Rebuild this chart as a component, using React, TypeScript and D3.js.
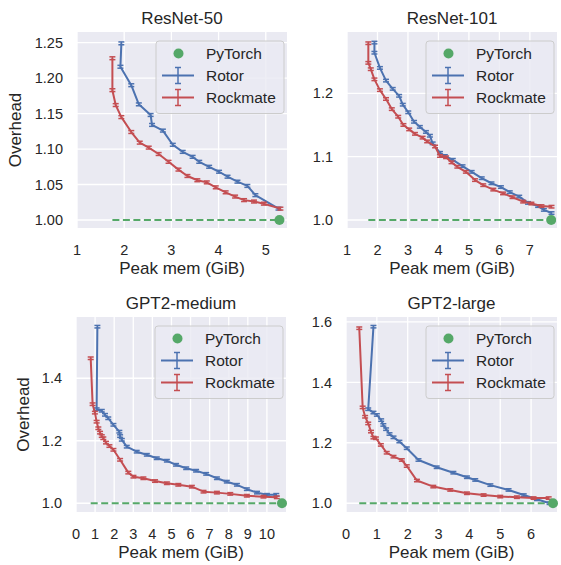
import React, { useEffect, useRef } from "react";
import * as d3 from "d3";

// values: [peak mem (GiB), overhead]
const resnet50Rotor = [
  [1.94, 1.249], [1.92, 1.216], [2.15, 1.19], [2.31, 1.163], [2.56, 1.148], [2.59, 1.134],
  [2.82, 1.126], [3.03, 1.106], [3.24, 1.096], [3.45, 1.089], [3.59, 1.082], [3.8, 1.075],
  [4.01, 1.068], [4.19, 1.061], [4.4, 1.054], [4.61, 1.048], [4.78, 1.035], [5.27, 1.016],
];
const resnet50Rockmate = [
  [1.75, 1.228], [1.75, 1.183], [1.82, 1.162], [1.94, 1.145], [2.15, 1.124], [2.33, 1.109],
  [2.52, 1.102], [2.73, 1.093], [2.94, 1.082], [3.15, 1.071], [3.34, 1.062], [3.55, 1.056],
  [3.75, 1.053], [3.94, 1.046], [4.15, 1.039], [4.35, 1.033], [4.54, 1.028], [4.75, 1.026],
  [4.96, 1.023], [5.31, 1.016],
];
const resnet50PyTorch = [5.29, 1.0];

const resnet101Rotor = [
  [1.9, 1.28], [1.9, 1.264], [2.08, 1.24], [2.28, 1.22], [2.5, 1.207], [2.71, 1.196],
  [2.83, 1.182], [3.01, 1.17], [3.2, 1.155], [3.39, 1.147], [3.59, 1.139], [3.72, 1.133],
  [3.81, 1.121], [4.05, 1.106], [4.21, 1.101], [4.47, 1.095], [4.79, 1.085], [5.09, 1.076],
  [5.42, 1.066], [5.74, 1.058], [6.05, 1.052], [6.34, 1.044], [6.65, 1.037], [6.94, 1.027],
  [7.27, 1.022], [7.46, 1.016], [7.71, 1.011],
];
const resnet101Rockmate = [
  [1.7, 1.279], [1.7, 1.248], [1.78, 1.238], [1.9, 1.222], [2.08, 1.205], [2.28, 1.191],
  [2.47, 1.175], [2.68, 1.163], [2.85, 1.15], [3.04, 1.143], [3.23, 1.136], [3.48, 1.13],
  [3.63, 1.124], [3.89, 1.116], [4.05, 1.101], [4.25, 1.099], [4.43, 1.091], [4.62, 1.084],
  [4.9, 1.076], [5.2, 1.063], [5.47, 1.055], [5.8, 1.048], [6.12, 1.042], [6.43, 1.036],
  [6.78, 1.029], [7.05, 1.026], [7.38, 1.022], [7.71, 1.021],
];
const resnet101PyTorch = [7.7, 1.0];

const gpt2mRotor = [
  [1.12, 1.565], [1.08, 1.301], [1.35, 1.296], [1.52, 1.283], [1.69, 1.272], [1.96, 1.251],
  [2.27, 1.229], [2.31, 1.215], [2.4, 1.203], [2.66, 1.181], [3.18, 1.165], [3.71, 1.155],
  [4.23, 1.144], [4.76, 1.136], [5.24, 1.123], [5.77, 1.112], [6.29, 1.104], [6.82, 1.094],
  [7.38, 1.08], [7.9, 1.069], [8.43, 1.059], [8.95, 1.045], [9.48, 1.034], [10.0, 1.027],
  [10.49, 1.027],
];
const gpt2mRockmate = [
  [0.77, 1.464], [0.87, 1.317], [0.99, 1.29], [1.08, 1.261], [1.17, 1.24], [1.26, 1.226],
  [1.35, 1.215], [1.43, 1.208], [1.57, 1.194], [1.75, 1.183], [1.96, 1.171], [2.31, 1.139],
  [2.74, 1.098], [3.01, 1.085], [3.53, 1.08], [4.14, 1.071], [4.76, 1.064], [5.36, 1.059],
  [6.07, 1.053], [6.68, 1.037], [7.38, 1.034], [8.08, 1.03], [8.95, 1.024], [9.82, 1.021],
  [10.52, 1.019],
];
const gpt2mPyTorch = [10.79, 1.0];

const gpt2lRotor = [
  [0.89, 1.584], [0.72, 1.311], [0.89, 1.3], [1.0, 1.292], [1.14, 1.275], [1.21, 1.259],
  [1.3, 1.245], [1.41, 1.229], [1.54, 1.218], [1.73, 1.204], [1.97, 1.182], [2.35, 1.143],
  [2.94, 1.119], [3.48, 1.101], [3.92, 1.086], [4.19, 1.077], [4.68, 1.06], [5.27, 1.044],
  [5.76, 1.027], [6.19, 1.013], [6.6, 1.0],
];
const gpt2lRockmate = [
  [0.43, 1.579], [0.54, 1.317], [0.62, 1.286], [0.72, 1.264], [0.81, 1.237], [0.89, 1.217],
  [0.97, 1.215], [1.13, 1.193], [1.32, 1.167], [1.54, 1.154], [1.81, 1.143], [1.97, 1.123],
  [2.3, 1.075], [2.83, 1.055], [3.38, 1.044], [3.92, 1.033], [4.46, 1.027], [5.0, 1.022],
  [5.54, 1.02], [6.08, 1.017], [6.57, 1.017],
];
const gpt2lPyTorch = [6.71, 1.0];

const titles = ["ResNet-50", "ResNet-101", "GPT2-medium", "GPT2-large"];
const legendLabels = ["PyTorch", "Rotor", "Rockmate"];
const resnet50XTicks = [1, 2, 3, 4, 5];
const resnet50YTicks = [1.0, 1.05, 1.1, 1.15, 1.2, 1.25];
const resnet101XTicks = [1, 2, 3, 4, 5, 6, 7];
const resnet101YTicks = [1.0, 1.1, 1.2];
const gpt2mXTicks = [0, 1, 2, 3, 4, 5, 6, 7, 8, 9, 10];
const gpt2mYTicks = [1.0, 1.2, 1.4];
const gpt2lXTicks = [0, 1, 2, 3, 4, 5, 6];
const gpt2lYTicks = [1.0, 1.2, 1.4, 1.6];

const BLUE = "#4C72B0";
const RED = "#C44E52";
const GREEN = "#55A868";
const TEXT = "#262626";
const FONT = "'Liberation Sans', Arial, sans-serif";

const panels = [
  { title: titles[0], rotor: resnet50Rotor, rockmate: resnet50Rockmate, pytorch: resnet50PyTorch,
    xTicks: resnet50XTicks, yTicks: resnet50YTicks, yFmt: ".2f", xDomain: [1, 5.45], yDomain: [0.9887, 1.265],
    err: 0.002, left: 77, top: 32, width: 210, height: 196, yLabelX: 21 },
  { title: titles[1], rotor: resnet101Rotor, rockmate: resnet101Rockmate, pytorch: resnet101PyTorch,
    xTicks: resnet101XTicks, yTicks: resnet101YTicks, yFmt: ".1f", xDomain: [1, 7.89], yDomain: [0.9874, 1.2967],
    err: 0.002, left: 347, top: 32, width: 210, height: 196, yLabelX: null },
  { title: titles[2], rotor: gpt2mRotor, rockmate: gpt2mRockmate, pytorch: gpt2mPyTorch,
    xTicks: gpt2mXTicks, yTicks: gpt2mYTicks, yFmt: ".1f", xDomain: [0, 11.0], yDomain: [0.972, 1.596],
    err: 0.004, left: 76, top: 317, width: 210, height: 195, yLabelX: 28.5 },
  { title: titles[3], rotor: gpt2lRotor, rockmate: gpt2lRockmate, pytorch: gpt2lPyTorch,
    xTicks: gpt2lXTicks, yTicks: gpt2lYTicks, yFmt: ".1f", xDomain: [0, 6.84], yDomain: [0.971, 1.616],
    err: 0.004, left: 346, top: 317, width: 211, height: 195, yLabelX: null },
];

const App = () => {
  const svgRef: any = useRef();

  useEffect(() => {
    const svg = d3.select(svgRef.current);
    svg.selectAll("*").remove();
    svg.attr("width", 561).attr("height", 565).style("font-family", FONT);

    panels.forEach((p) => {
      const x = d3.scaleLinear().domain(p.xDomain).range([p.left, p.left + p.width]);
      const y = d3.scaleLinear().domain(p.yDomain).range([p.top + p.height, p.top]);
      const g = svg.append("g");

      g.append("rect")
        .attr("x", p.left).attr("y", p.top)
        .attr("width", p.width).attr("height", p.height)
        .attr("fill", "#EAEAF2");

      // grid
      g.selectAll(".vgrid").data(p.xTicks).join("line")
        .attr("x1", (d) => x(d)).attr("x2", (d) => x(d))
        .attr("y1", p.top).attr("y2", p.top + p.height)
        .attr("stroke", "#fff").attr("stroke-width", 1.3);
      g.selectAll(".hgrid").data(p.yTicks).join("line")
        .attr("x1", p.left).attr("x2", p.left + p.width)
        .attr("y1", (d) => y(d)).attr("y2", (d) => y(d))
        .attr("stroke", "#fff").attr("stroke-width", 1.3);

      // tick labels
      g.selectAll(".xt").data(p.xTicks).join("text")
        .attr("x", (d) => x(d)).attr("y", p.top + p.height + 27)
        .attr("text-anchor", "middle").attr("font-size", 14.5).attr("fill", TEXT)
        .text((d) => String(d));
      g.selectAll(".yt").data(p.yTicks).join("text")
        .attr("x", p.left - 14).attr("y", (d) => y(d))
        .attr("dy", "0.36em")
        .attr("text-anchor", "end").attr("font-size", 14.5).attr("fill", TEXT)
        .text((d) => d3.format(p.yFmt)(d));

      // title and axis labels
      g.append("text")
        .attr("x", p.left + p.width / 2).attr("y", p.top - 8)
        .attr("text-anchor", "middle").attr("font-size", 17).attr("fill", TEXT)
        .text(p.title);
      g.append("text")
        .attr("x", p.left + p.width / 2).attr("y", p.top + p.height + 46)
        .attr("text-anchor", "middle").attr("font-size", 17).attr("fill", TEXT)
        .text("Peak mem (GiB)");
      if (p.yLabelX !== null) {
        g.append("text")
          .attr("transform", `translate(${p.yLabelX},${p.top + p.height / 2}) rotate(-90)`)
          .attr("text-anchor", "middle").attr("font-size", 17).attr("fill", TEXT)
          .text("Overhead");
      }

      // PyTorch baseline
      const minX: any = d3.min(p.rockmate, (d) => d[0]);
      g.append("line")
        .attr("x1", x(minX)).attr("x2", x(p.pytorch[0]))
        .attr("y1", y(p.pytorch[1])).attr("y2", y(p.pytorch[1]))
        .attr("stroke", GREEN).attr("stroke-width", 2)
        .attr("stroke-dasharray", "7,3.5");

      const line = d3.line<any>().x((d) => x(d[0])).y((d) => y(d[1]));
      const series = [
        { data: p.rotor, color: BLUE },
        { data: p.rockmate, color: RED },
      ];
      series.forEach((s) => {
        g.append("path")
          .attr("d", line(s.data))
          .attr("fill", "none").attr("stroke", s.color).attr("stroke-width", 2)
          .attr("stroke-linejoin", "round");
        const eb = g.append("g").attr("stroke", s.color).attr("stroke-width", 1.5);
        s.data.forEach((d) => {
          const y0 = y(d[1] - p.err);
          const y1 = y(d[1] + p.err);
          const cx = x(d[0]);
          eb.append("line").attr("x1", cx).attr("x2", cx).attr("y1", y0).attr("y2", y1);
          eb.append("line").attr("x1", cx - 3).attr("x2", cx + 3).attr("y1", y0).attr("y2", y0);
          eb.append("line").attr("x1", cx - 3).attr("x2", cx + 3).attr("y1", y1).attr("y2", y1);
        });
      });

      g.append("circle")
        .attr("cx", x(p.pytorch[0])).attr("cy", y(p.pytorch[1]))
        .attr("r", 5).attr("fill", GREEN);

      // legend
      const lw = 128;
      const lx = p.left + p.width - 3 - lw;
      const ly = p.top + 9;
      const lg = g.append("g");
      lg.append("rect")
        .attr("x", lx).attr("y", ly).attr("width", lw).attr("height", 72.5)
        .attr("rx", 3).attr("fill", "#EAEAF2").attr("fill-opacity", 0.8)
        .attr("stroke", "#cccccc").attr("stroke-width", 1);
      const rowY = [ly + 12.5, ly + 34.5, ly + 56.5];
      lg.append("circle").attr("cx", lx + 22.5).attr("cy", rowY[0]).attr("r", 5).attr("fill", GREEN);
      [BLUE, RED].forEach((c, i) => {
        const yy = rowY[i + 1];
        const cx = lx + 22;
        lg.append("line").attr("x1", lx + 6).attr("x2", lx + 38).attr("y1", yy).attr("y2", yy)
          .attr("stroke", c).attr("stroke-width", 2);
        lg.append("line").attr("x1", cx).attr("x2", cx).attr("y1", yy - 8).attr("y2", yy + 8)
          .attr("stroke", c).attr("stroke-width", 1.5);
        lg.append("line").attr("x1", cx - 3).attr("x2", cx + 3).attr("y1", yy - 8).attr("y2", yy - 8)
          .attr("stroke", c).attr("stroke-width", 1.5);
        lg.append("line").attr("x1", cx - 3).attr("x2", cx + 3).attr("y1", yy + 8).attr("y2", yy + 8)
          .attr("stroke", c).attr("stroke-width", 1.5);
      });
      legendLabels.forEach((t, i) => {
        lg.append("text")
          .attr("x", lx + 50).attr("y", rowY[i]).attr("dy", "0.36em")
          .attr("font-size", 15.5).attr("fill", TEXT)
          .text(t);
      });
    });
  }, []);

  return (
    <svg
      ref={svgRef}
      style={{ position: "absolute", left: 0, top: 0, display: "block", background: "#fff" }}
    ></svg>
  );
};

export default App;
